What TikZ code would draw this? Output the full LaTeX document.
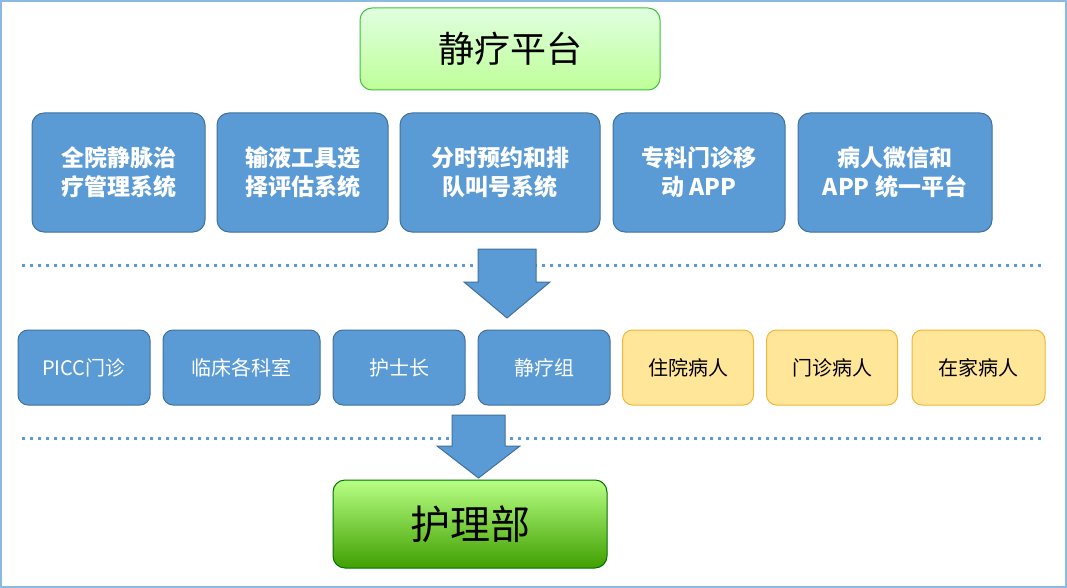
\documentclass[tikz,border=0pt]{standalone}
\usepackage{fontspec}
\setmainfont{Noto Sans CJK SC}
\definecolor{bb}{HTML}{5B9BD5}
\definecolor{bbd}{HTML}{41719C}
\definecolor{yy}{HTML}{FFE699}
\definecolor{yyd}{HTML}{F2B632}
\begin{document}
\begin{tikzpicture}[x=1pt,y=-1pt,
 sysbox/.style={draw=bbd,fill=bb,rounded corners=12pt,line width=1pt,text=white,font=\fontsize{23}{29}\selectfont\bfseries,align=center,inner sep=0},
 rolebox/.style={draw=bbd,fill=bb,rounded corners=10pt,line width=1pt,text=white,font=\fontsize{20}{24}\selectfont,inner sep=0},
 patbox/.style={draw=yyd,fill=yy,rounded corners=10pt,line width=1pt,text=black,font=\fontsize{20}{24}\selectfont,inner sep=0},
 dots/.style={draw=bb,line width=3pt,dash pattern=on 3pt off 5pt},
 arrowshape/.style={draw=bbd,fill=bb,line width=1pt,line join=miter}]
\fill[white] (0,0) rectangle (1067,588);
\draw[bb!70,line width=2pt] (1,1) rectangle (1066,587);
\node[draw=green!50!gray,line width=1pt,rounded corners=12pt,top color=green!12!white,bottom color=green!30!white!85!yellow,minimum width=300,minimum height=82,font=\fontsize{36}{40}\selectfont] (top) at (510,49) {静疗平台};
\node[sysbox,minimum width=173,minimum height=119] (s1) at (118.5,172.5) {全院静脉治\\疗管理系统};
\node[sysbox,minimum width=171,minimum height=119] (s2) at (302.5,172.5) {输液工具选\\择评估系统};
\node[sysbox,minimum width=200,minimum height=119] (s3) at (500,172.5) {分时预约和排\\队叫号系统};
\node[sysbox,minimum width=172,minimum height=119] (s4) at (699,172.5) {专科门诊移\\动 APP};
\node[sysbox,minimum width=194,minimum height=119] (s5) at (895,172.5) {病人微信和\\APP 统一平台};
\coordinate (l1a) at (22,265); \coordinate (l1b) at (1042,265);
\draw[dots] (l1a) -- (l1b);
\draw[arrowshape] (478,249) -- (536,249) -- (536,282) -- (550,282) -- (507,318) -- (464,282) -- (478,282) -- cycle;
\node[rolebox,minimum width=132,minimum height=75] (r1) at (84,367.5) {PICC门诊};
\node[rolebox,minimum width=157,minimum height=75] (r2) at (241.5,367.5) {临床各科室};
\node[rolebox,minimum width=132,minimum height=75] (r3) at (399,367.5) {护士长};
\node[rolebox,minimum width=132,minimum height=75] (r4) at (544,367.5) {静疗组};
\node[patbox,minimum width=131,minimum height=75] (p1) at (688,367.5) {住院病人};
\node[patbox,minimum width=131,minimum height=75] (p2) at (832,367.5) {门诊病人};
\node[patbox,minimum width=133,minimum height=75] (p3) at (978.5,367.5) {在家病人};
\coordinate (l2a) at (22,438); \coordinate (l2b) at (1042,438);
\draw[dots] (l2a) -- (l2b);
\draw[arrowshape] (452,415) -- (505,415) -- (505,446) -- (520,446) -- (478.5,478) -- (437,446) -- (452,446) -- cycle;
\node[draw=green!45!black,line width=1pt,rounded corners=12pt,top color=green!35!white!80!yellow,bottom color=green!50!black!75!yellow,minimum width=274,minimum height=88,font=\fontsize{40}{44}\selectfont] (bot) at (470,524) {护理部};
\end{tikzpicture}
\end{document}
